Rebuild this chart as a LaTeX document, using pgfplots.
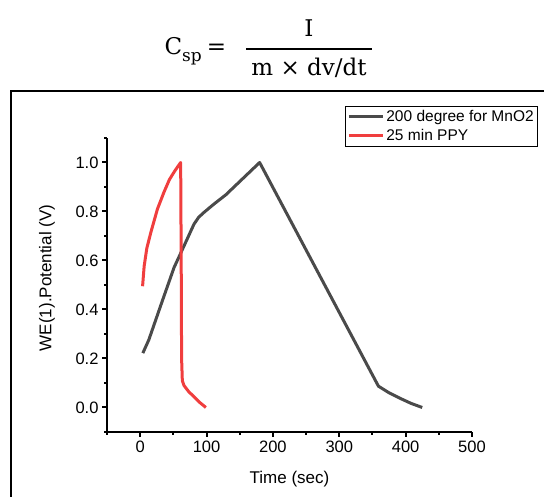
\documentclass[border=0pt]{standalone}
\usepackage{pgfplots}
\pgfplotsset{compat=1.18}
\usepackage{fontspec}
\setmainfont{Liberation Sans}
\newfontfamily\formfont{DejaVu Serif}
\definecolor{cblack}{RGB}{74,74,74}
\definecolor{cred}{RGB}{240,62,62}
\begin{document}
\begin{tikzpicture}[x=1pt,y=1pt]
\path[use as bounding box] (0pt,0pt) rectangle (544pt,497pt);
\clip (0pt,0pt) rectangle (544pt,497pt);
% formula
\node[anchor=base east, inner sep=0pt, font={\formfont\fontsize{23}{27}\selectfont}] at (202pt,442pt) {C\raisebox{-0.3em}{\fontsize{17}{19}\selectfont sp}};
\node[anchor=center, inner sep=0pt, font={\formfont\fontsize{23}{27}\selectfont}] at (216.5pt,447.5pt) {=};
\draw[line width=1.4pt] (246pt,448pt) -- (372pt,448pt);
\node[anchor=base, inner sep=0pt, font={\formfont\fontsize{23}{27}\selectfont}] at (309pt,460.5pt) {I};
\node[anchor=base, inner sep=0pt, font={\formfont\fontsize{23}{27}\selectfont}] at (309pt,421pt) {m × dv/dt};
% outer frame
\draw[line width=1.5pt] (11pt,-10pt) rectangle (560pt,406pt);
\begin{axis}[
  at={(107pt,65pt)}, anchor=south west,
  scale only axis, width=365pt, height=294pt,
  xmin=-50, xmax=500, ymin=-0.1, ymax=1.1,
  axis lines=left,
  axis line style={-, line width=2.2pt, black},
  tick align=outside,
  major tick length=5pt, minor tick length=3pt,
  tick style={line width=2pt, black},
  xtick={0,100,200,300,400,500},
  minor xtick={-50,50,150,250,350,450},
  ytick={0,0.2,0.4,0.6,0.8,1.0},
  minor ytick={-0.1,0.1,0.3,0.5,0.7,0.9,1.1},
  /pgf/number format/assume math mode=true,
  tick label style={font=\fontsize{16.5}{18}\selectfont},
  yticklabel style={/pgf/number format/.cd, fixed, fixed zerofill, precision=1},
  xlabel={Time (sec)}, ylabel={WE(1).Potential (V)},
  label style={font=\fontsize{17}{20}\selectfont},
  xlabel style={at={(axis description cs:0.5,-0.161)}, anchor=center},
  ylabel style={at={(axis description cs:-0.1644,0.524)}, anchor=center},
  legend style={at={(axis description cs:0.652,1.11)}, anchor=north west,
    draw=black, line width=0.8pt, font=\fontsize{15.5}{17}\selectfont,
    inner sep=2pt, row sep=2.5pt, legend cell align=left},
  legend image code/.code={\draw[#1] (0pt,0pt) -- (34pt,0pt);},
  clip=false,
]
\addplot[cblack, line width=3pt, line join=round] coordinates {
(4,0.222) (13,0.276) (34,0.44) (51,0.571) (66,0.659) (81,0.748) (88,0.776) (96,0.796) (111,0.83) (129,0.868) (180,1.0) (359,0.087) (375,0.06) (392,0.037) (408,0.017) (425,0.0)
};
\addlegendentry{200 degree for MnO2}
\addplot[cred, line width=3pt, line join=round] coordinates {
(3.6,0.495) (6,0.577) (10,0.65) (16,0.714) (26,0.81) (36,0.88) (44,0.93) (52,0.965) (61,1.0) (61.8,0.6) (62.4,0.2) (63.5,0.11) (66,0.09) (73,0.065) (81,0.044) (90,0.02) (99,0.0)
};
\addlegendentry{25 min PPY}
\end{axis}
\end{tikzpicture}
\end{document}
